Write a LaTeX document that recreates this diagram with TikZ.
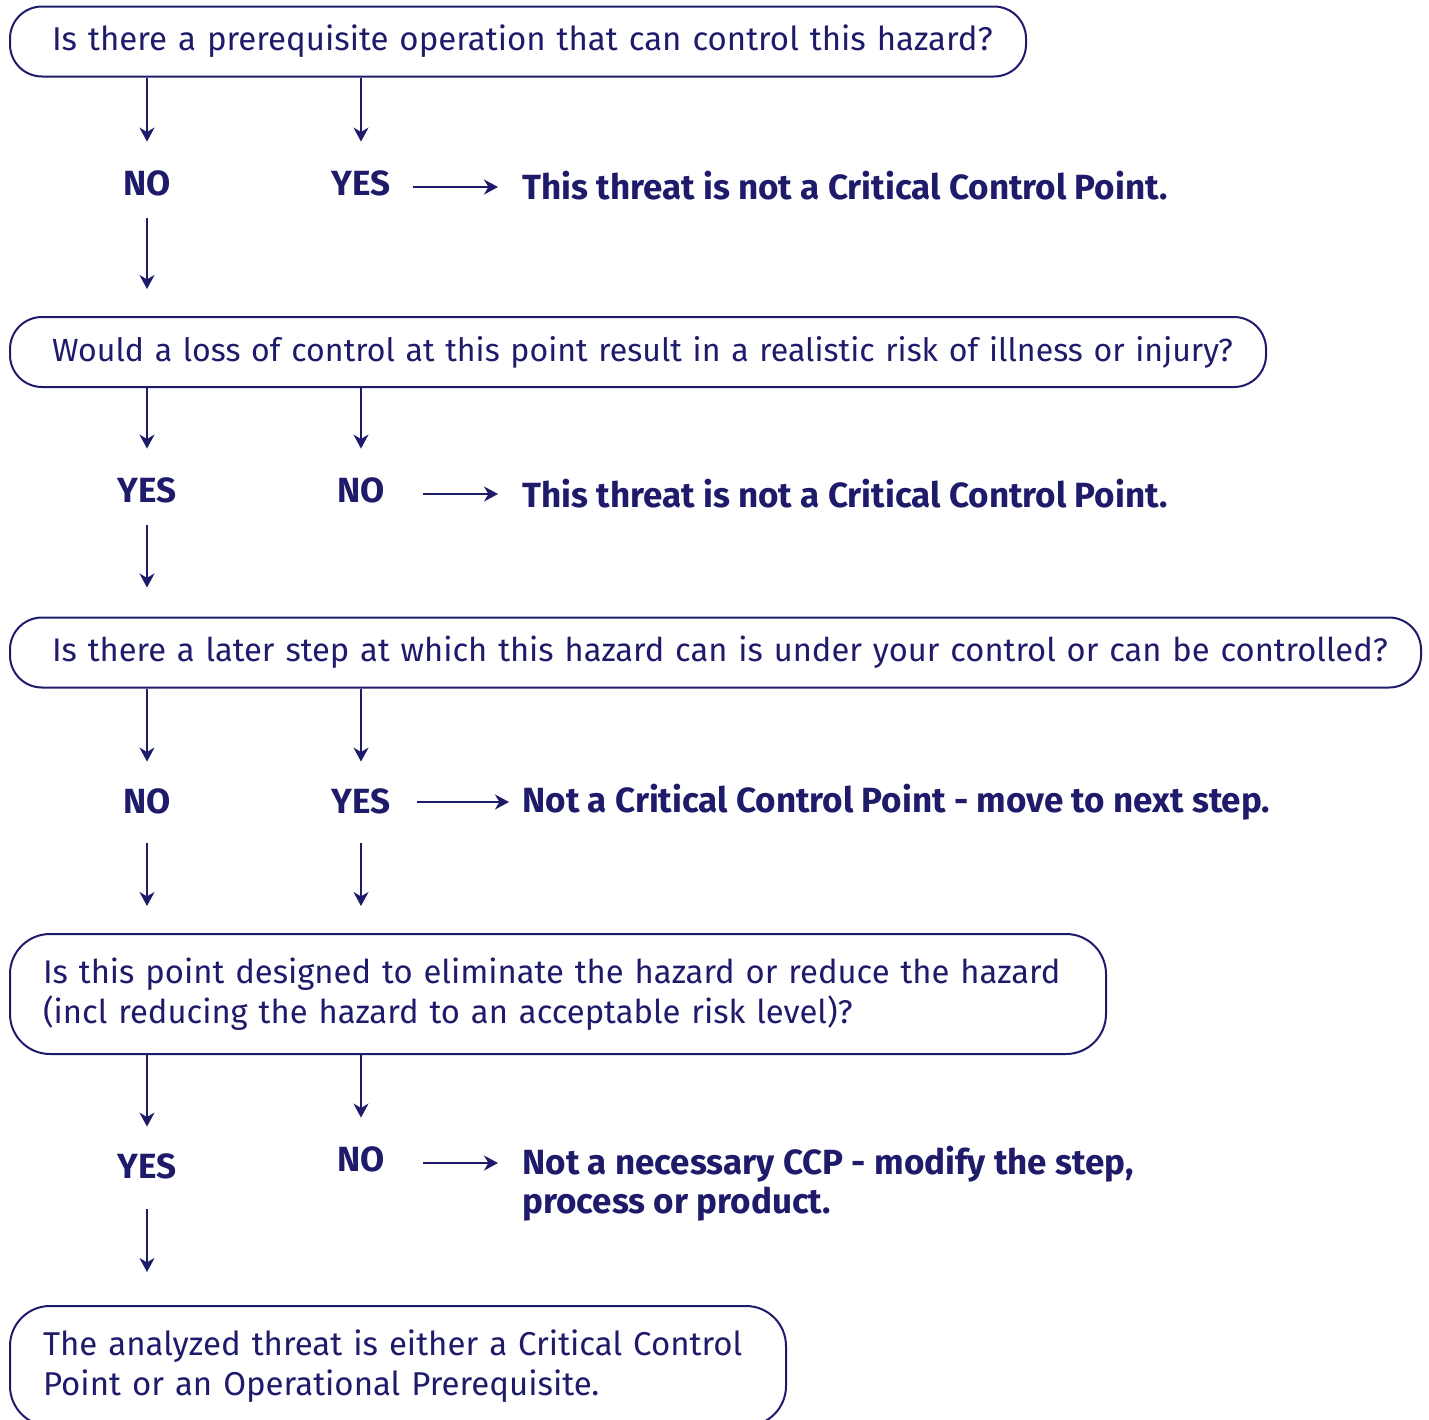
\documentclass[tikz,border=0pt]{standalone}
\usepackage{fontspec}
\setmainfont{Fira Sans}
\usetikzlibrary{arrows.meta}
\definecolor{navy}{HTML}{1F1B6B}
\hbadness=10000 \hfuzz=100pt
\begin{document}
\begin{tikzpicture}[x=0.5pt,y=-0.5pt,
  every node/.style={text=navy},
  qbox/.style={draw=navy,line width=1pt,rounded corners=16pt,align=left,inner ysep=0pt,font=\fontsize{16.5}{20}\selectfont},
  lbl/.style={inner sep=0pt,text height=11pt,text depth=0pt,font=\fontsize{17.5}{20}\selectfont\bfseries},
  res/.style={inner sep=0pt,anchor=west,align=left,font=\fontsize{17.5}{19.5}\selectfont\bfseries},
  arr/.style={draw=navy,line width=0.9pt,-{Stealth[length=7pt,width=7.5pt,inset=2.2pt]}}]
\useasboundingbox (0,0) rectangle (1429,1419);
% boxes
\node[qbox,text width=466pt,inner xsep=21pt,minimum height=35pt] (b1) at (518,41.5) {\mbox{Is there a prerequisite operation that can control this hazard?}};
\node[qbox,text width=586pt,inner xsep=21pt,minimum height=35pt,font=\fontsize{16.05}{20}\selectfont] (b2) at (638,352) {\mbox{Would a loss of control at this point result in a realistic risk of illness or injury?}};
\node[qbox,text width=663.5pt,inner xsep=21pt,minimum height=35pt,font=\fontsize{16.35}{20}\selectfont] (b3) at (715.5,652.5) {\mbox{Is there a later step at which this hazard can is under your control or can be controlled?}};
\node[qbox,rounded corners=20pt,text width=515pt,inner xsep=16.5pt,minimum height=60pt,font=\fontsize{16.4}{20}\selectfont] (b4) at (558,994) {\mbox{Is this point designed to eliminate the hazard or reduce the hazard}\\\mbox{(incl reducing the hazard to an acceptable risk level)?}};
\node[qbox,rounded corners=20pt,text width=355pt,inner xsep=16.5pt,minimum height=60pt] (b5) at (398,1366) {\mbox{The analyzed threat is either a Critical Control}\\\mbox{Point or an Operational Prerequisite.}};
% labels level 1
\node[lbl] (n1) at (147,184) {NO};
\node[lbl] (y1) at (361,184) {YES};
\node[res] (r1) at (522,186) {This threat is not a Critical Control Point.};
% level 2
\node[lbl] (y2) at (147,491) {YES};
\node[lbl] (n2) at (361,491) {NO};
\node[res] (r2) at (522,494) {This threat is not a Critical Control Point.};
% level 3
\node[lbl] (n3) at (147,802) {NO};
\node[lbl] (y3) at (361,802) {YES};
\node[res] (r3) at (522,802) {Not a Critical Control Point - move to next step.};
% level 4
\node[lbl] (y4) at (147,1167) {YES};
\node[lbl] (n4) at (361,1160) {NO};
\node[res] (r4) at (522,1184) {Not a necessary CCP - modify the step,\\process or product.};
% arrows level 1
\draw[arr,shorten >=15.5pt] (b1.south -| n1) -- (n1.north);
\draw[arr,shorten >=15.5pt] (b1.south -| y1) -- (y1.north);
\draw[arr,shorten <=11pt,shorten >=12pt] ([yshift=-1.5pt]y1.east) -- ([yshift=-1.5pt]y1.east -| r1.west);
\draw[arr,shorten <=11.5pt,shorten >=13.5pt] (n1.south) -- (b2.north -| n1);
% level 2
\draw[arr,shorten >=15.5pt] (b2.south -| y2) -- (y2.north);
\draw[arr,shorten >=15.5pt] (b2.south -| n2) -- (n2.north);
\draw[arr,shorten <=19pt,shorten >=12pt] ([yshift=-1.5pt]n2.east) -- ([yshift=-1.5pt]n2.east -| r2.west);
\draw[arr,shorten <=11.5pt,shorten >=14.5pt] (y2.south) -- (b3.north -| y2);
% level 3
\draw[arr,shorten >=14.5pt] (b3.south -| n3) -- (n3.north);
\draw[arr,shorten >=14.5pt] (b3.south -| y3) -- (y3.north);
\draw[arr,shorten <=13pt,shorten >=6.5pt] (y3.east) -- (y3.east -| r3.west);
\draw[arr,shorten <=15pt,shorten >=13.5pt] (n3.south) -- (b4.north -| n3);
\draw[arr,shorten <=15pt,shorten >=13.5pt] (y3.south) -- (b4.north -| y3);
% level 4
\draw[arr,shorten >=14.5pt] (b4.south -| y4) -- (y4.north);
\draw[arr,shorten >=15.5pt] (b4.south -| n4) -- (n4.north);
\draw[arr,shorten <=19pt,shorten >=12pt] ([yshift=-1.5pt]n4.east) -- ([yshift=-1.5pt]n4.east -| r4.west);
\draw[arr,shorten <=15.5pt,shorten >=16.5pt] (y4.south) -- (b5.north -| y4);
\end{tikzpicture}
\end{document}
